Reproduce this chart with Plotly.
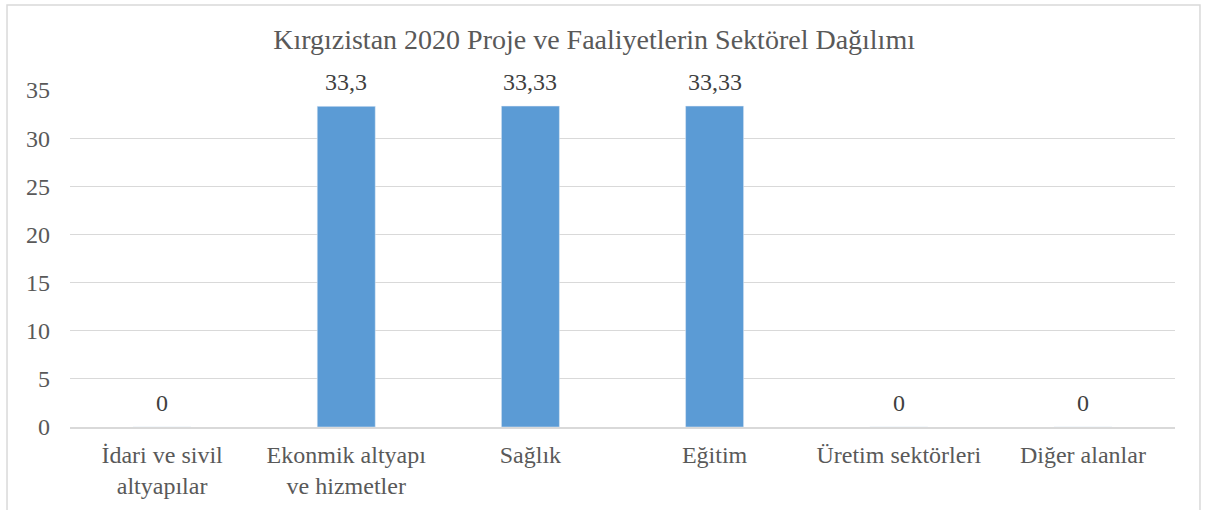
import plotly.graph_objects as go

categories = ["İdari ve sivil<br>altyapılar", "Ekonmik altyapı<br>ve hizmetler", "Sağlık", "Eğitim", "Üretim sektörleri", "Diğer alanlar"]
values = [0, 33.3, 33.33, 33.33, 0, 0]
value_labels = ["0", "33,3", "33,33", "33,33", "0", "0"]
y_ticks = [0, 5, 10, 15, 20, 25, 30, 35]

FONT = "Liberation Serif, serif"

fig = go.Figure(go.Bar(
    x=categories, y=values,
    marker=dict(color="#5B9BD5"), cliponaxis=False, width=0.315,
))

for c, v, t in zip(categories, values, value_labels):
    fig.add_annotation(x=c, y=v, text=t, showarrow=False, yanchor="bottom", yshift=9,
                       font=dict(family=FONT, size=24, color="#404040"))

fig.update_layout(
    width=1205, height=510,
    margin=dict(l=70, r=30, t=90, b=83),
    paper_bgcolor="white", plot_bgcolor="white",
    title=dict(text="Kırgızistan 2020 Proje ve Faaliyetlerin Sektörel Dağılımı",
               x=0.493, xanchor="center", y=0.924, yanchor="middle",
               font=dict(family=FONT, size=28, color="#595959")),
    font=dict(family=FONT, size=24, color="#595959"),
    showlegend=False,
    shapes=[dict(type="rect", xref="paper", yref="paper",
                 x0=-0.057, x1=1.0226, y0=-0.4, y1=1.252,
                 line=dict(color="#D9D9D9", width=1.5), fillcolor="rgba(0,0,0,0)", layer="below")],
)
fig.update_xaxes(showgrid=False, showline=True, linecolor="#D9D9D9", linewidth=1.5,
                 ticks="", automargin=False, ticklabelstandoff=5,
                 tickfont=dict(family=FONT, size=24, color="#595959"))
fig.update_yaxes(range=[0, 35], tickvals=y_ticks, showgrid=True, gridcolor="#D9D9D9", gridwidth=1.3,
                 zeroline=False, showline=False, ticks="", ticklen=0, automargin=False,
                 tickfont=dict(family=FONT, size=24, color="#595959"), ticklabelstandoff=19)

fig.write_html("out.html", config={"displayModeBar": False},
               post_script="document.body.style.margin='0px';")
